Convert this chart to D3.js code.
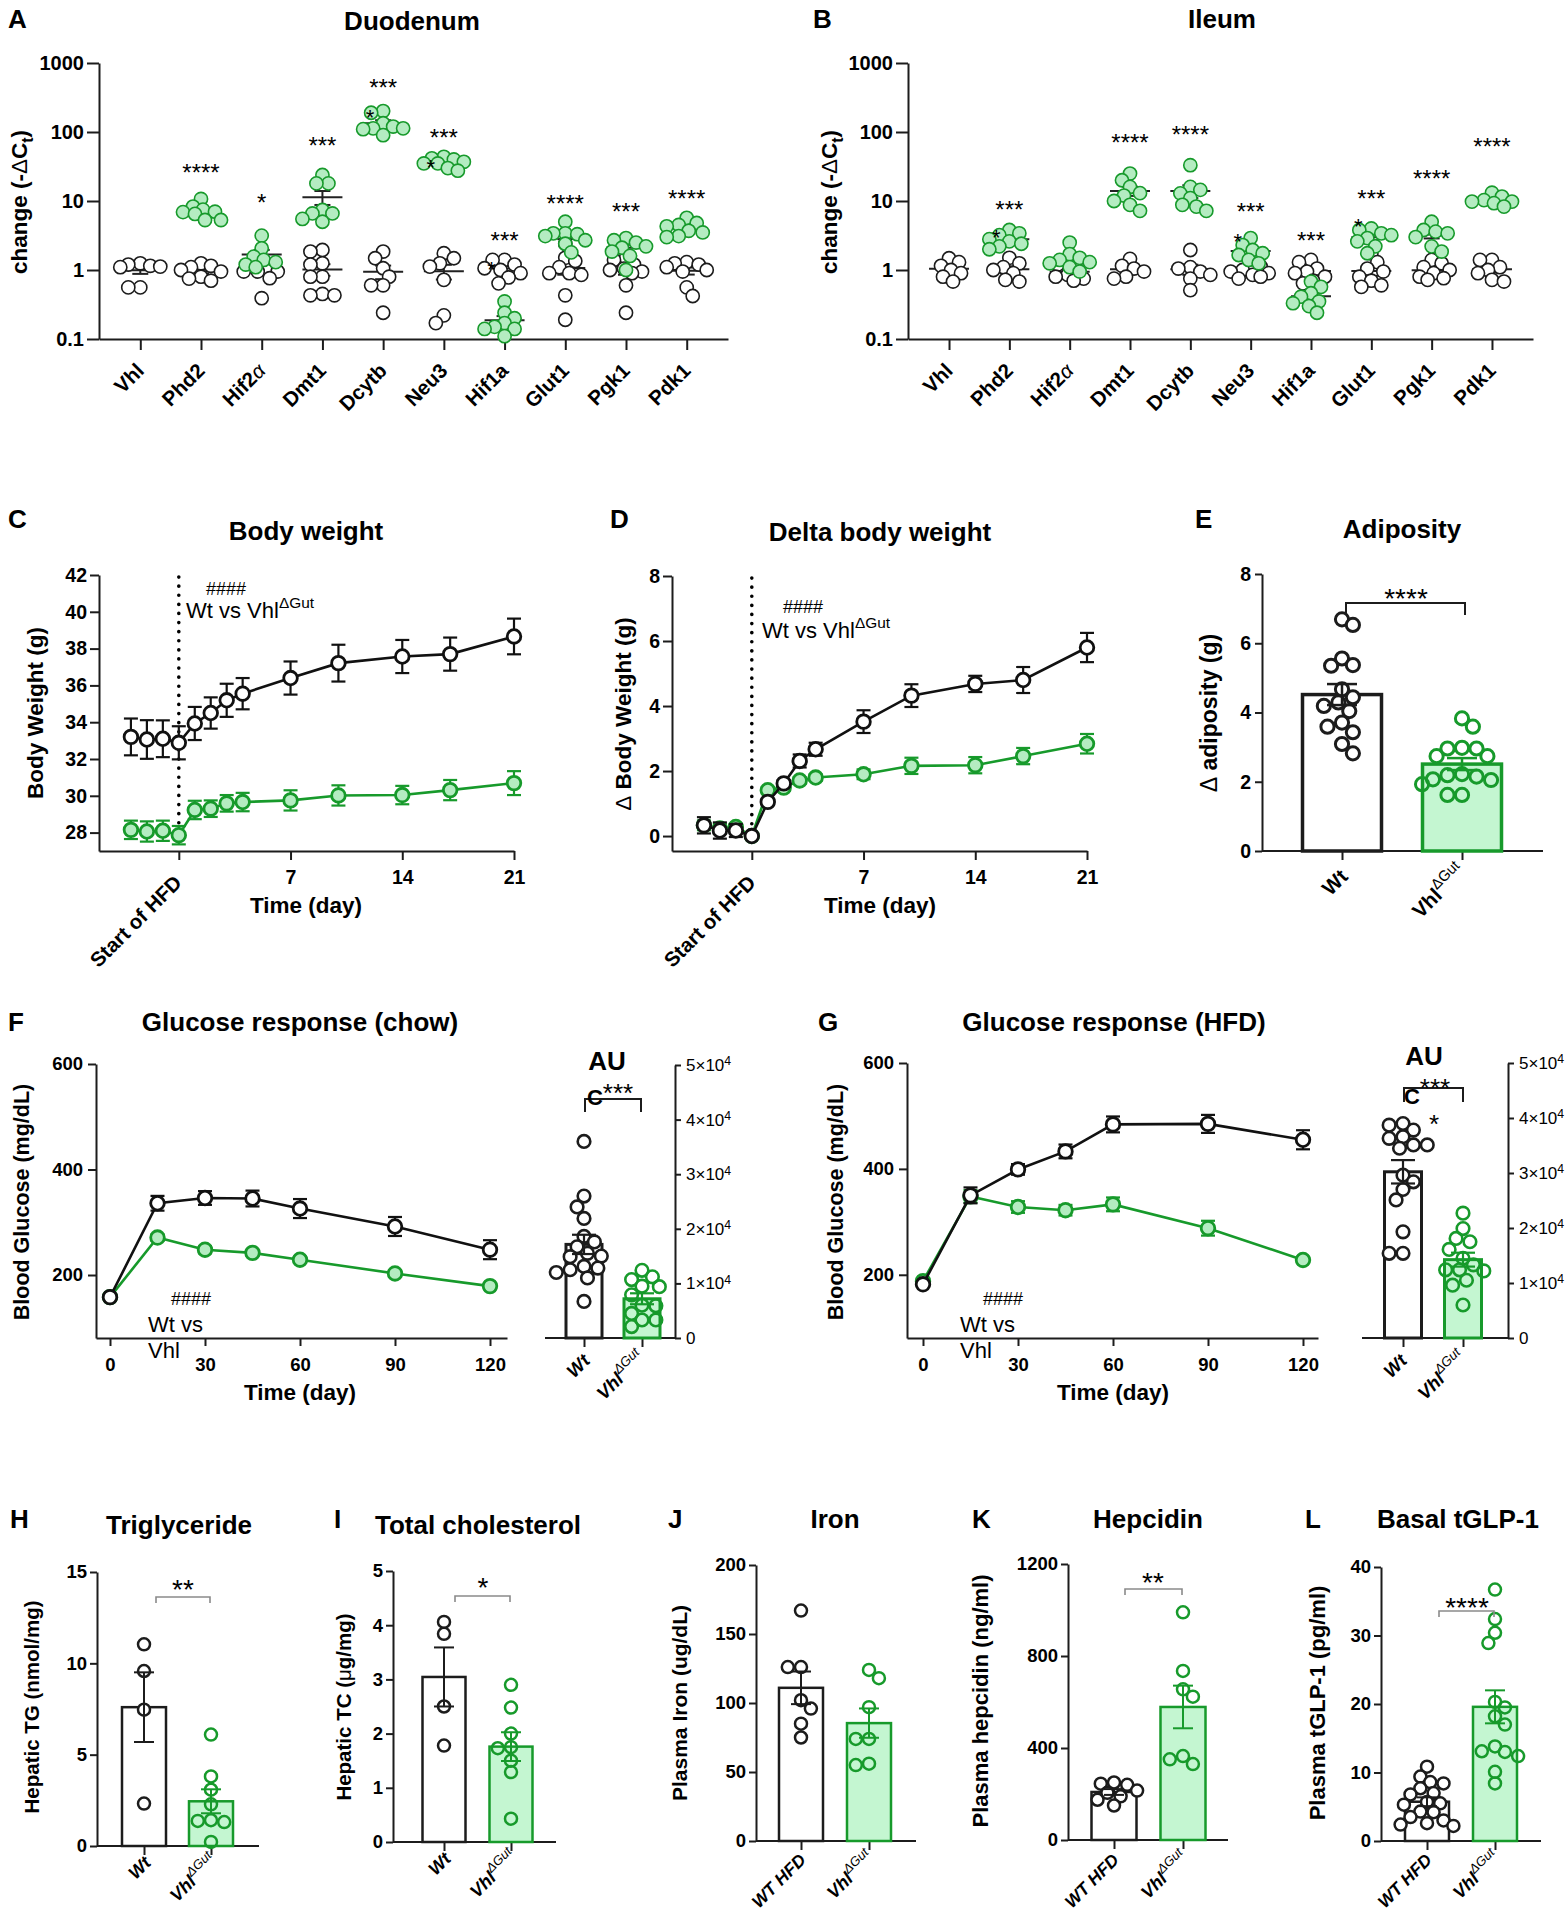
<!DOCTYPE html>
<html><head><meta charset="utf-8">
<script src="https://cdn.jsdelivr.net/npm/d3@7"></script>
<style>
body{margin:0;background:#fff;}
svg{display:block;}
</style></head><body>
<svg id="fig" width="1567" height="1920"></svg>
<script>
// ================= DATA =================
const genes = ["Vhl","Phd2","Hif2α","Dmt1","Dcytb","Neu3","Hif1a","Glut1","Pgk1","Pdk1"];
// Panel A – Duodenum (fold change)
const duoWt = [
  [1.25,1.15,1.12,1.2,1.1,0.56,0.56],
  [1.25,1.15,1.1,1.0,0.95,0.8,0.7,0.75],
  [1.4,1.12,1.0,0.95,0.95,0.95,0.76,0.39],
  [1.95,1.85,1.25,1.2,0.8,0.8,0.45,0.43,0.43],
  [1.85,1.48,1.06,0.8,0.6,0.6,0.24],
  [1.75,1.48,1.25,1.12,0.72,0.22,0.17],
  [1.4,1.4,1.2,1.06,1.0,0.9,0.78,0.64],
  [2.4,1.5,1.35,1.1,0.9,0.9,0.85,0.43,0.19],
  [1.5,1.4,1.2,1.05,1.0,0.95,0.9,0.6,0.24],
  [1.3,1.25,1.2,1.1,1.0,0.95,0.56,0.42]
];
const duoKo = [
  [],
  [10.7,8.3,7.5,7.0,6.9,6.5,5.3,5.3],
  [3.15,2.06,1.56,1.4,1.3,1.2,1.1],
  [23.8,18,18,7.4,6.6,6.6,5.5,5.0],
  [201,190,134,113,120,113,90,110],
  [43.7,41.5,40,37,35,35,30,27.5],
  [0.35,0.24,0.2,0.17,0.15,0.14,0.14,0.11],
  [5.0,3.4,3.4,3.3,3.1,2.7,2.4,1.8],
  [2.9,2.7,2.5,2.2,2.1,1.85,1.6,1.0],
  [5.7,4.8,4.5,4.3,3.7,3.5,3.1,3.0]
];
const duoStars = ["","****","*","***","***","***","***","****","***","****"];
const duoStarLevel = [null,31,11.4,76,513,97,3.2,11,8.2,13];
const duoExtraStars = [["Dcytb",188],["Neu3",35.5],["Hif1a",1.18]];
// Panel B – Ileum
const ileWt = [
  [1.48,1.3,1.15,1.0,0.9,0.8,0.68],
  [1.5,1.25,1.1,1.0,0.9,0.72,0.68],
  [1.3,1.2,1.0,0.85,0.8,0.75,0.7],
  [1.45,1.15,1.05,0.95,0.8,0.75],
  [1.95,1.1,1.05,0.95,0.85,0.75,0.51],
  [1.25,1.12,1.0,0.95,0.9,0.85,0.8,0.75],
  [1.4,1.3,1.05,0.95,0.9,0.8,0.7,0.64],
  [1.75,1.3,1.05,0.95,0.8,0.7,0.6,0.57],
  [1.4,1.25,1.1,1.0,0.9,0.8,0.76,0.72],
  [1.4,1.4,1.1,1.0,0.9,0.72,0.68]
];
const ileKo = [
  [],
  [3.8,3.4,3.2,2.8,2.6,2.4,2.2,2.0],
  [2.5,1.7,1.5,1.4,1.3,1.25,1.1,0.95],
  [25,20,16,13,12,10,8.8,7.2],
  [33,16,14.5,12.9,11,8.3,8.8,7.2],
  [2.9,2.3,1.95,1.75,1.65,1.4,1.25],
  [0.68,0.57,0.46,0.41,0.35,0.33,0.3,0.24],
  [4.0,3.8,3.4,3.2,2.9,2.6,2.2,1.75],
  [5.0,3.8,3.6,3.4,3.0,2.2,1.85],
  [13.2,11.6,10.3,9.8,9.8,9.3,8.3]
];
const ileStars = ["","***","","****","****","***","***","***","****","****"];
const ileStarLevel = [null,8.8,null,82,107,8.2,3.2,13,25,72];
const ileExtraStars = [["Phd2",3.44],["Neu3",3.0],["Glut1",4.96]];

// Panel C – body weight
const bwDays = [-3,-2,-1,0,1,2,3,4,7,10,14,17,21];
const bwWt    = [33.2,33.06,33.1,32.88,33.93,34.5,35.19,35.55,36.4,37.21,37.57,37.7,38.66];
const bwWtSem = [1.0,1.05,1.0,0.9,0.9,0.85,0.9,0.85,0.9,1.0,0.9,0.9,0.97];
const bwKo    = [28.15,28.06,28.1,27.86,29.23,29.3,29.59,29.66,29.75,30.02,30.04,30.31,30.69];
const bwKoSem = [0.5,0.55,0.55,0.5,0.5,0.45,0.45,0.5,0.55,0.55,0.5,0.55,0.65];
// Panel D – delta body weight
const dbWt    = [0.33,0.17,0.17,0,1.05,1.62,2.31,2.67,3.52,4.32,4.68,4.8,5.8];
const dbWtSem = [0.25,0.25,0.2,0,0.1,0.1,0.2,0.2,0.35,0.35,0.25,0.4,0.45];
const dbKo    = [0.33,0.23,0.28,0,1.41,1.49,1.71,1.8,1.9,2.16,2.18,2.46,2.84];
const dbKoSem = [0.15,0.15,0.1,0,0.1,0.1,0.1,0.1,0.15,0.25,0.25,0.25,0.3];
// Panel E – adiposity
const adWt = [6.53,6.69,5.35,5.37,5.56,4.67,4.44,4.29,4.19,4.04,3.71,3.59,3.43,3.09,2.82];
const adKo = [3.83,3.59,2.96,2.96,2.98,2.74,2.74,2.22,2.19,2.15,2.05,2.07,1.93,1.62,1.62];
// Panels F, G – glucose response
const gTimes = [0,15,30,45,60,90,120];
const chowWt    = [158,336,346,345,326,292,248];
const chowWtSem = [6,14,13,15,18,18,18];
const chowKo    = [158,271,248,242,229,203,179];
const chowKoSem = [5,6,7,6,6,6,6];
const chowAucWt = [36000,26000,24000,21900,18600,17600,16700,15500,15000,14900,13100,12800,12500,12000,11000,6700];
const chowAucKo = [12400,10700,9400,9500,7900,6000,5900,4500,3300,3300,2100,11200];
const hfdWt    = [182,350,399,433,484,485,455];
const hfdWtSem = [0,15,10,13,15,17,18];
const hfdKo    = [188,348,328,322,333,288,228];
const hfdKoSem = [0,12,11,10,13,14,6];
const hfdAucWt = [38700,39000,37800,36600,36300,35100,35100,34500,29600,28400,27000,25100,19300,15400,15400];
const hfdAucKo = [22700,19900,18100,17500,16100,14500,12400,12400,12200,10500,9600,6000,13300];
// Panels H–L
const tgWt = [11.04,9.58,7.46,2.32];
const tgKo = [6.1,3.81,3.08,2.28,1.41,1.31,1.37,0.22];
const tcWt = [4.06,3.84,2.5,1.78];
const tcKo = [2.9,2.48,2.0,1.75,1.73,1.5,1.29,0.43];
const ironWt = [167,126,126,102,96,85,75];
const ironKo = [124,118,97,74,74,55,56];
const hepWt = [250,245,240,215,205,190,175,150];
const hepKo = [990,735,655,623,365,330,351];
const glpWt = [10.85,9.4,8.6,8.4,7.7,7.0,6.8,5.7,5.5,5.3,4.3,4.2,3.5,3.0,2.6,2.4,2.2];
const glpKo = [36.7,32.4,30.4,28.9,20.3,19.5,18.2,17.0,13.8,13.1,13.0,12.4,10.1,8.4];

// ================= STYLE =================
const FONT = "'Liberation Sans', Arial, Helvetica, sans-serif";
const INK = "#1c1c1c";
const GREEN = "#179a2b";
const GFILL = "#b4ecc1";
const BARFILL = "#c4f6d1";
const svg = d3.select("#fig").attr("font-family", FONT);
svg.append("rect").attr("width",1567).attr("height",1920).attr("fill","#fff");

// ================= HELPERS =================
function txt(x, y, s, o = {}) {
  const t = svg.append("text").attr("x", x).attr("y", y).text(s)
    .attr("font-size", o.size || 20).attr("font-weight", o.weight || "bold")
    .attr("text-anchor", o.anchor || "start").attr("fill", o.fill || "#000");
  if (o.style) t.attr("font-style", o.style);
  return t;
}
function star(x, cy, s, fs) {
  return txt(x, cy + fs * 0.56, s, {size: fs, weight: "normal", anchor: "middle"});
}
function styleAxis(g, fs, opts = {}) {
  g.attr("font-family", FONT).attr("font-size", fs).attr("font-weight", opts.weight || "bold");
  g.select(".domain").attr("stroke", INK).attr("stroke-width", opts.sw || 2);
  g.selectAll(".tick line").attr("stroke", INK).attr("stroke-width", opts.sw || 2);
  g.selectAll(".tick text").attr("fill", "#000");
}
function yLabel(cx, cy, parts, fs) {
  const t = svg.append("text").attr("transform", `translate(${cx},${cy}) rotate(-90)`)
    .attr("text-anchor", "middle").attr("font-size", fs).attr("font-weight", "bold")
    .attr("y", fs * 0.36);
  parts.forEach(p => {
    const ts = t.append("tspan").text(p.t);
    if (p.sub) ts.attr("dy", fs * 0.28).attr("font-size", fs * 0.7);
    if (p.back) ts.attr("dy", -fs * 0.28);
    if (p.w) ts.attr("font-weight", p.w);
  });
  return t;
}
function rotLabel(x, y, parts, fs, italic) {
  const t = svg.append("text").attr("transform", `translate(${x},${y}) rotate(-45)`)
    .attr("text-anchor", "end").attr("font-size", fs).attr("font-weight", "bold");
  if (italic) t.attr("font-style", "italic");
  parts.forEach(p => {
    const ts = t.append("tspan").text(p.t);
    if (p.sup) ts.attr("dy", -fs * 0.45).attr("font-size", fs * 0.72).attr("font-weight", "normal");
    if (p.it) ts.attr("font-style", "italic").attr("font-weight", "normal");
  });
  return t;
}
function wtVs(x, y, fs) {
  const t = svg.append("text").attr("x", x).attr("y", y).attr("font-size", fs).attr("font-weight", "normal");
  t.append("tspan").text("Wt vs Vhl");
  t.append("tspan").attr("dy", -fs * 0.45).attr("font-size", fs * 0.7).text("ΔGut");
}
// beeswarm with limited spread: returns points with x,y
function swarm(vals, y, cx, r, step, minFac, maxOff) {
  const pts = vals.map((v, i) => ({v, i, y: y(v)})).sort((a, b) => a.y - b.y);
  const placed = [];
  const minD = 2 * r * minFac;
  for (const p of pts) {
    let px = null, best = null, bestD = -1;
    for (let k = 0; k * step <= maxOff && px === null; k++) {
      const cands = k === 0 ? [0] : (k % 2 ? [k * step, -k * step] : [-k * step, k * step]);
      for (const o of cands) {
        const xx = cx + o;
        const dmin = placed.length ? d3.min(placed, q => Math.hypot(q.x - xx, q.y - p.y)) : Infinity;
        if (dmin >= minD) { px = xx; break; }
        if (dmin > bestD) { bestD = dmin; best = xx; }
      }
    }
    p.x = px !== null ? px : best; placed.push(p);
  }
  return placed;
}
const sem = a => d3.deviation(a) / Math.sqrt(a.length);

// ================= PANELS A, B =================
function genePanel(o) {
  const y = d3.scaleLog().domain([0.1, 1000]).range([339, 63]);
  const x = d3.scalePoint().domain(genes).range([o.x0, o.x1]).padding(0.68);
  const gy = svg.append("g").attr("transform", `translate(${o.x0},0)`)
    .call(d3.axisLeft(y).tickValues([0.1, 1, 10, 100, 1000]).tickFormat(d3.format("~g"))
      .tickSize(12).tickPadding(3).tickSizeOuter(0));
  styleAxis(gy, 20);
  const gx = svg.append("g").attr("transform", "translate(0,339)")
    .call(d3.axisBottom(x).tickSize(11).tickSizeOuter(0).tickFormat(""));
  styleAxis(gx, 19);
  genes.forEach(g => {
    const parts = g === "Hif2α" ? [{t: "Hif2"}, {t: "α", it: true}] : [{t: g}];
    rotLabel(x(g) + 5, 372, parts, 20.5, false);
  });
  const r = 6.6;
  const meanG = svg.append("g");
  genes.forEach((g, i) => {
    const cx = x(g);
    [[o.wt[i], "#fff", INK], [o.ko[i], GFILL, GREEN]].forEach(([vals, fill, stroke]) => {
      if (!vals.length) return;
      const pts = swarm(vals, y, cx, r, 2, 0.78, 20);
      svg.append("g").selectAll("circle").data(pts).join("circle")
        .attr("cx", d => d.x).attr("cy", d => d.y).attr("r", r)
        .attr("fill", fill).attr("stroke", stroke).attr("stroke-width", 1.6);
      const m = d3.mean(vals), s = sem(vals);
      meanG.append("line").attr("x1", cx - 20).attr("x2", cx + 20).attr("y1", y(m)).attr("y2", y(m));
      meanG.append("line").attr("x1", cx).attr("x2", cx).attr("y1", y(m + s)).attr("y2", y(Math.max(m - s, 0.11)));
      [m + s, Math.max(m - s, 0.11)].forEach(v =>
        meanG.append("line").attr("x1", cx - 8).attr("x2", cx + 8).attr("y1", y(v)).attr("y2", y(v)));
    });
    if (o.stars[i]) star(cx, y(o.starLv[i]), o.stars[i], 24);
  });
  meanG.attr("stroke", "#222").attr("stroke-width", 2);
  o.extra.forEach(([g, v]) => star(x(g) - 13, y(v), "*", 22));
  yLabel(o.labX, 202, [{t: "change (-"}, {t: "Δ", w: "normal"}, {t: "C"}, {t: "t", sub: true}, {t: ")", back: true}], 22.5);
}

// ================= TIME-COURSE PANELS =================
function timePanel(o) {
  const x = d3.scaleLinear().domain(o.xDomain).range(o.xRange);
  const y = d3.scaleLinear().domain(o.yDomain).range(o.yRange);
  const gx = svg.append("g").attr("transform", `translate(0,${o.yRange[0]})`)
    .call(d3.axisBottom(x).tickValues(o.xTicks).tickFormat(o.xFmt).tickSize(o.tick).tickPadding(o.xPad).tickSizeOuter(0));
  styleAxis(gx, o.fs);
  const gy = svg.append("g").attr("transform", `translate(${o.xRange[0]},0)`)
    .call(d3.axisLeft(y).tickValues(o.yTicks).tickFormat(d3.format("~g")).tickSize(o.tick).tickPadding(o.yPad).tickSizeOuter(0));
  styleAxis(gy, o.fs);
  if (o.dotted) {
    svg.append("line").attr("x1", x(0)).attr("x2", x(0)).attr("y1", o.yRange[1] + 2).attr("y2", o.yRange[0] - 2)
      .attr("stroke", "#000").attr("stroke-width", 3.6).attr("stroke-linecap", "round")
      .attr("stroke-dasharray", "0.1 9");
  }
  o.series.forEach(s => {
    const g = svg.append("g");
    const d = o.t.map((t, i) => ({t, v: s.vals[i], e: s.sem[i]}));
    const eg = g.append("g").attr("stroke", s.stroke).attr("stroke-width", 2.2);
    d.forEach(p => {
      if (!p.e) return;
      const cx = x(p.t);
      eg.append("line").attr("x1", cx).attr("x2", cx).attr("y1", y(p.v - p.e)).attr("y2", y(p.v + p.e));
      [p.v - p.e, p.v + p.e].forEach(v => eg.append("line").attr("x1", cx - 7).attr("x2", cx + 7).attr("y1", y(v)).attr("y2", y(v)));
    });
    g.append("path").datum(d).attr("fill", "none").attr("stroke", s.stroke).attr("stroke-width", 2.6)
      .attr("d", d3.line().x(p => x(p.t)).y(p => y(p.v)));
    g.selectAll("circle").data(d).join("circle").attr("cx", p => x(p.t)).attr("cy", p => y(p.v))
      .attr("r", 6.8).attr("fill", s.fill).attr("stroke", s.stroke).attr("stroke-width", 2.8);
  });
  return {x, y};
}

// ================= BAR PANELS =================
function barPanel(o) {
  const y = d3.scaleLinear().domain(o.yDomain).range(o.yRange);
  const x = d3.scalePoint().domain(o.groups.map(g => g.name)).range(o.centers);
  const y0 = y(0);
  const ax = (o.right ? d3.axisRight(y) : d3.axisLeft(y)).tickValues(o.yTicks).tickFormat(d3.format("~g"))
    .tickSize(o.tick || 8).tickPadding(o.pad || 4).tickSizeOuter(0);
  const gy = svg.append("g").attr("transform", `translate(${o.axisX},0)`).call(ax);
  styleAxis(gy, o.fs, {weight: o.yWeight || "bold", sw: o.sw || 2});
  if (o.sciTicks) {
    gy.selectAll(".tick text").each(function (d) {
      const t = d3.select(this); t.text(null);
      if (d === 0) { t.text("0"); return; }
      t.append("tspan").text(`${d / 1e4}×10`);
      t.append("tspan").attr("dy", "-0.45em").attr("font-size", "0.72em").text("4");
    });
  }
  svg.append("line").attr("x1", o.xLine[0]).attr("x2", o.xLine[1]).attr("y1", y0).attr("y2", y0)
    .attr("stroke", INK).attr("stroke-width", o.sw || 2);
  const gx = svg.append("g").attr("transform", `translate(0,${y0})`)
    .call(d3.axisBottom(x).tickSize(9).tickFormat(""));
  gx.select(".domain").remove();
  styleAxis(gx, o.fs, {sw: o.sw || 2});
  o.groups.forEach(g => {
    const cx = x(g.name);
    const m = d3.mean(g.vals), s = sem(g.vals);
    svg.append("rect").attr("x", cx - o.barW / 2).attr("y", y(m)).attr("width", o.barW)
      .attr("height", y0 - y(m)).attr("fill", g.fill).attr("stroke", g.stroke).attr("stroke-width", o.barSW);
    const pts = swarm(g.vals, y, cx, o.r, o.r * 0.55, 0.92, 40);
    svg.append("g").selectAll("circle").data(pts).join("circle")
      .attr("cx", d => d.x).attr("cy", d => d.y).attr("r", o.r)
      .attr("fill", g.ptFill).attr("stroke", g.stroke).attr("stroke-width", o.ptSW);
    const eg = svg.append("g").attr("stroke", g.stroke).attr("stroke-width", o.ebSW || 2);
    eg.append("line").attr("x1", cx).attr("x2", cx).attr("y1", y(m - s)).attr("y2", y(m + s));
    [m - s, m + s].forEach(v => eg.append("line").attr("x1", cx - o.cap).attr("x2", cx + o.cap).attr("y1", y(v)).attr("y2", y(v)));
  });
  if (o.bracket) {
    const b = o.bracket;
    svg.append("path").attr("d", `M${b.x1},${b.y + b.drop}V${b.y}H${b.x2}V${b.y + b.drop}`)
      .attr("fill", "none").attr("stroke", b.color).attr("stroke-width", b.sw);
    star(b.sx, b.sy, b.stars, b.fs);
  }
  return {x, y};
}
const WT = (vals) => ({name: "Wt", vals, fill: "#fff", stroke: INK, ptFill: "#fff"});
const KO = (vals) => ({name: "Vhl", vals, fill: BARFILL, stroke: GREEN, ptFill: "none"});

// ================= DRAW =================
// Row 1
txt(8, 28, "A", {size: 26});
txt(412, 30, "Duodenum", {size: 26, anchor: "middle"});
genePanel({x0: 99, x1: 728, wt: duoWt, ko: duoKo, stars: duoStars, starLv: duoStarLevel, extra: duoExtraStars, labX: 19});
txt(813, 28, "B", {size: 26});
txt(1222, 28, "Ileum", {size: 26, anchor: "middle"});
genePanel({x0: 908, x1: 1533, wt: ileWt, ko: ileKo, stars: ileStars, starLv: ileStarLevel, extra: ileExtraStars, labX: 829});

// Row 2 – C
txt(8, 528, "C", {size: 26});
txt(306, 540, "Body weight", {size: 26, anchor: "middle"});
timePanel({
  xDomain: [-5, 21], xRange: [99, 514], yDomain: [27, 42], yRange: [851, 575],
  xTicks: [0, 7, 14, 21], xFmt: d => d === 0 ? "" : d, yTicks: d3.range(28, 43, 2),
  tick: 9, xPad: 10, yPad: 3, fs: 19.5, dotted: true, t: bwDays,
  series: [
    {vals: bwKo, sem: bwKoSem, stroke: GREEN, fill: GFILL},
    {vals: bwWt, sem: bwWtSem, stroke: "#111", fill: "#fff"}
  ]
});
rotLabel(183, 884, [{t: "Start of HFD"}], 20.5, false);
txt(306, 913, "Time (day)", {size: 22.5, anchor: "middle"});
yLabel(35, 713, [{t: "Body Weight (g)"}], 22.5);
txt(226, 595, "####", {size: 18, weight: "normal", anchor: "middle"});
wtVs(186, 618, 22);

// Row 2 – D
txt(610, 528, "D", {size: 26});
txt(880, 541, "Delta body weight", {size: 26, anchor: "middle"});
timePanel({
  xDomain: [-5, 21], xRange: [672, 1087], yDomain: [-0.46, 8], yRange: [851, 576],
  xTicks: [0, 7, 14, 21], xFmt: d => d === 0 ? "" : d, yTicks: [0, 2, 4, 6, 8],
  tick: 9, xPad: 10, yPad: 3, fs: 19.5, dotted: true, t: bwDays,
  series: [
    {vals: dbKo, sem: dbKoSem, stroke: GREEN, fill: GFILL},
    {vals: dbWt, sem: dbWtSem, stroke: "#111", fill: "#fff"}
  ]
});
rotLabel(757, 884, [{t: "Start of HFD"}], 20.5, false);
txt(880, 913, "Time (day)", {size: 22.5, anchor: "middle"});
yLabel(623, 714, [{t: "Δ", w: "normal"}, {t: " Body Weight (g)"}], 22.5);
txt(803, 613, "####", {size: 18, weight: "normal", anchor: "middle"});
wtVs(762, 638, 22);

// Row 2 – E
txt(1195, 528, "E", {size: 26});
txt(1402, 538, "Adiposity", {size: 26, anchor: "middle"});
barPanel({
  yDomain: [0, 8], yRange: [851, 574], yTicks: [0, 2, 4, 6, 8], axisX: 1262, xLine: [1262, 1543],
  centers: [1342, 1462], barW: 79, fs: 19.5, tick: 7, pad: 4, barSW: 3.5, r: 6.6, ptSW: 3, cap: 15, ebSW: 2.5,
  groups: [WT(adWt), KO(adKo)],
  bracket: {x1: 1346, x2: 1465, y: 603, drop: 12, color: INK, sw: 2, stars: "****", sx: 1406, sy: 592, fs: 28}
});
yLabel(1209, 713, [{t: "Δ", w: "normal"}, {t: " adiposity (g)"}], 23);
rotLabel(1349, 878, [{t: "Wt"}], 20.5, false);
rotLabel(1467, 873, [{t: "Vhl"}, {t: "ΔGut", sup: true}], 20.5, false);

// Row 3 – F
txt(8, 1031, "F", {size: 26});
txt(300, 1031, "Glucose response (chow)", {size: 26, anchor: "middle"});
timePanel({
  xDomain: [-4.42, 125.37], xRange: [96, 507], yDomain: [80.6, 600], yRange: [1338, 1064],
  xTicks: [0, 30, 60, 90, 120], xFmt: d => d, yTicks: [200, 400, 600],
  tick: 8, xPad: 12, yPad: 5, fs: 18.5, dotted: false, t: gTimes,
  series: [
    {vals: chowKo, sem: chowKoSem, stroke: GREEN, fill: GFILL},
    {vals: chowWt, sem: chowWtSem, stroke: "#111", fill: "#fff"}
  ]
});
txt(300, 1400, "Time (day)", {size: 22.5, anchor: "middle"});
yLabel(21, 1202, [{t: "Blood Glucose (mg/dL)"}], 21.5);
txt(191, 1305, "####", {size: 18, weight: "normal", anchor: "middle"});
txt(148, 1332, "Wt vs", {size: 22, weight: "normal"});
txt(148, 1358, "Vhl", {size: 22, weight: "normal"});
barPanel({
  yDomain: [0, 50000], yRange: [1338, 1065], yTicks: [0, 10000, 20000, 30000, 40000, 50000],
  axisX: 675, right: true, sciTicks: true, yWeight: "normal", xLine: [545, 675],
  centers: [584, 642], barW: 36, fs: 17, tick: 6, pad: 5, barSW: 3, r: 6.3, ptSW: 2.6, cap: 12, ebSW: 2.2,
  groups: [WT(chowAucWt), KO(chowAucKo)],
  bracket: {x1: 585, x2: 641, y: 1099, drop: 13, color: INK, sw: 2, stars: "***", sx: 618, sy: 1087, fs: 26}
});
txt(607, 1070, "AU", {size: 26, anchor: "middle"});
txt(595, 1105, "C", {size: 22, anchor: "middle"});
rotLabel(591, 1362, [{t: "Wt"}], 18.5, true);
rotLabel(646, 1359, [{t: "Vhl"}, {t: "ΔGut", sup: true}], 18.5, true);

// Row 3 – G
txt(818, 1031, "G", {size: 26});
txt(1114, 1031, "Glucose response (HFD)", {size: 26, anchor: "middle"});
timePanel({
  xDomain: [-5.05, 124.74], xRange: [907, 1318], yDomain: [80.6, 600], yRange: [1338, 1063],
  xTicks: [0, 30, 60, 90, 120], xFmt: d => d, yTicks: [200, 400, 600],
  tick: 8, xPad: 12, yPad: 5, fs: 18.5, dotted: false, t: gTimes,
  series: [
    {vals: hfdKo, sem: hfdKoSem, stroke: GREEN, fill: GFILL},
    {vals: hfdWt, sem: hfdWtSem, stroke: "#111", fill: "#fff"}
  ]
});
txt(1113, 1400, "Time (day)", {size: 22.5, anchor: "middle"});
yLabel(835, 1202, [{t: "Blood Glucose (mg/dL)"}], 21.5);
txt(1003, 1305, "####", {size: 18, weight: "normal", anchor: "middle"});
txt(960, 1332, "Wt vs", {size: 22, weight: "normal"});
txt(960, 1358, "Vhl", {size: 22, weight: "normal"});
barPanel({
  yDomain: [0, 50000], yRange: [1338, 1063], yTicks: [0, 10000, 20000, 30000, 40000, 50000],
  axisX: 1508, right: true, sciTicks: true, yWeight: "normal", xLine: [1362, 1508],
  centers: [1403, 1463], barW: 37, fs: 17, tick: 6, pad: 5, barSW: 3, r: 6.3, ptSW: 2.6, cap: 12, ebSW: 2.2,
  groups: [WT(hfdAucWt), KO(hfdAucKo)],
  bracket: {x1: 1404, x2: 1463, y: 1088, drop: 14, color: INK, sw: 2, stars: "***", sx: 1435, sy: 1082, fs: 26}
});
txt(1424, 1065, "AU", {size: 26, anchor: "middle"});
txt(1412, 1104, "C", {size: 22, anchor: "middle"});
star(1434, 1118, "*", 26);
rotLabel(1408, 1362, [{t: "Wt"}], 18.5, true);
rotLabel(1467, 1359, [{t: "Vhl"}, {t: "ΔGut", sup: true}], 18.5, true);

// Row 4
const bottomCommon = {fs: 18.5, tick: 7, pad: 3, barSW: 2.5, r: 6, ptSW: 2.5, cap: 10, ebSW: 2};
const grayBr = (x1, x2, yb, stars, sx, sy) => ({x1, x2, y: yb, drop: 6, color: "#8a8a8a", sw: 1.6, stars, sx, sy, fs: 28});

txt(10, 1528, "H", {size: 26});
txt(179, 1534, "Triglyceride", {size: 26, anchor: "middle"});
barPanel(Object.assign({}, bottomCommon, {
  yDomain: [0, 15], yRange: [1846, 1572], yTicks: [0, 5, 10, 15], axisX: 97, xLine: [97, 259],
  centers: [144, 211], barW: 44, groups: [WT(tgWt), KO(tgKo)],
  bracket: grayBr(156, 210, 1597, "**", 183, 1583)
}));
yLabel(32, 1707, [{t: "Hepatic TG (nmol/mg)"}], 20.5);
rotLabel(152, 1864, [{t: "Wt"}], 18, true);
rotLabel(218, 1862, [{t: "Vhl"}, {t: "ΔGut", sup: true}], 18, true);

txt(334, 1528, "I", {size: 26});
txt(478, 1534, "Total cholesterol", {size: 26, anchor: "middle"});
barPanel(Object.assign({}, bottomCommon, {
  yDomain: [0, 5], yRange: [1842, 1571], yTicks: [0, 1, 2, 3, 4, 5], axisX: 393, xLine: [393, 556],
  centers: [444, 511], barW: 43, groups: [WT(tcWt), KO(tcKo)],
  bracket: grayBr(455, 510, 1596, "*", 483, 1581)
}));
yLabel(344, 1707, [{t: "Hepatic TC ("}, {t: "μ", w: "normal"}, {t: "g/mg)"}], 20.5);
rotLabel(452, 1860, [{t: "Wt"}], 18, true);
rotLabel(518, 1858, [{t: "Vhl"}, {t: "ΔGut", sup: true}], 18, true);

txt(668, 1528, "J", {size: 26});
txt(835, 1528, "Iron", {size: 26, anchor: "middle"});
barPanel(Object.assign({}, bottomCommon, {
  yDomain: [0, 200], yRange: [1841, 1565], yTicks: [0, 50, 100, 150, 200], axisX: 756, xLine: [756, 916],
  centers: [801, 869], barW: 44, groups: [WT(ironWt), KO(ironKo)]
}));
yLabel(679, 1703, [{t: "Plasma Iron (ug/dL)"}], 21);
rotLabel(807, 1861, [{t: "WT HFD"}], 17.5, true);
rotLabel(875, 1859, [{t: "Vhl"}, {t: "ΔGut", sup: true}], 18, true);

txt(972, 1528, "K", {size: 26});
txt(1148, 1528, "Hepcidin", {size: 26, anchor: "middle"});
barPanel(Object.assign({}, bottomCommon, {
  yDomain: [0, 1200], yRange: [1840, 1564], yTicks: [0, 400, 800, 1200], axisX: 1068, xLine: [1068, 1228],
  centers: [1114, 1183], barW: 45, groups: [WT(hepWt), KO(hepKo)],
  bracket: grayBr(1125, 1182, 1589, "**", 1153, 1576)
}));
yLabel(980, 1701, [{t: "Plasma hepcidin (ng/ml)"}], 22);
rotLabel(1120, 1861, [{t: "WT HFD"}], 17.5, true);
rotLabel(1189, 1859, [{t: "Vhl"}, {t: "ΔGut", sup: true}], 18, true);

txt(1305, 1528, "L", {size: 26});
txt(1458, 1528, "Basal tGLP-1", {size: 26, anchor: "middle"});
barPanel(Object.assign({}, bottomCommon, {
  yDomain: [0, 40], yRange: [1841, 1567], yTicks: [0, 10, 20, 30, 40], axisX: 1381, xLine: [1381, 1541],
  centers: [1427, 1495], barW: 44, groups: [WT(glpWt), KO(glpKo)],
  bracket: grayBr(1439, 1494, 1611, "****", 1467, 1601)
}));
yLabel(1317, 1703, [{t: "Plasma tGLP-1 (pg/ml)"}], 22);
rotLabel(1433, 1861, [{t: "WT HFD"}], 17.5, true);
rotLabel(1501, 1859, [{t: "Vhl"}, {t: "ΔGut", sup: true}], 18, true);
</script>
</body></html>
